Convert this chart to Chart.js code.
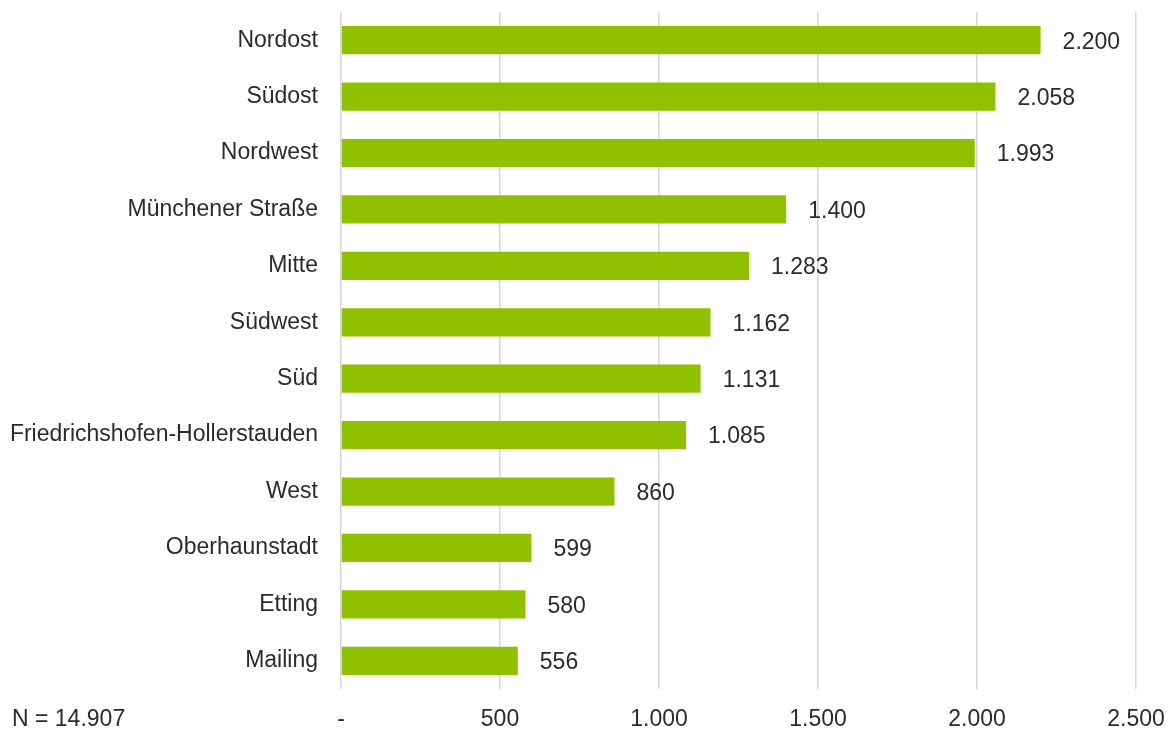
<!DOCTYPE html>
<html lang="de">
<head>
<meta charset="utf-8">
<title>Stadtbezirke</title>
<script src="https://cdn.jsdelivr.net/npm/chart.js@4/dist/chart.umd.min.js"></script>
<style>
  html, body { margin: 0; padding: 0; background: #ffffff; }
  #wrap { position: relative; width: 1169px; height: 729px; }
</style>
</head>
<body>
<div id="wrap"><canvas id="chart" width="1169" height="729"></canvas></div>
<script>
// Districts, top to bottom
const districts = [
  'Nordost', 'Südost', 'Nordwest', 'Münchener Straße', 'Mitte', 'Südwest',
  'Süd', 'Friedrichshofen-Hollerstauden', 'West', 'Oberhaunstadt', 'Etting', 'Mailing'
];
// Count per district
const counts = [2200, 2058, 1993, 1400, 1283, 1162, 1131, 1085, 860, 599, 580, 556];
// Value axis ticks
const axisTicks = [0, 500, 1000, 1500, 2000, 2500];
const totalNote = 'N = 14.907';

const FONT = '"Liberation Sans", Arial, sans-serif';
const TEXT = '#2b2b2b';
const fmt = v => v === 0 ? '-' : v.toLocaleString('de-DE');

// Drop the extra label padding Chart.js reserves around each scale
function noEdgePadding(scale) {
  scale.paddingTop = 0;
  scale.paddingBottom = 0;
  scale.paddingLeft = 0;
  scale.paddingRight = 0;
}

// Value labels right of each bar
const valueLabels = {
  id: 'valueLabels',
  afterDatasetsDraw(chart) {
    const { ctx } = chart;
    const meta = chart.getDatasetMeta(0);
    ctx.save();
    ctx.font = '23px ' + FONT;
    ctx.fillStyle = TEXT;
    ctx.textAlign = 'left';
    ctx.textBaseline = 'middle';
    meta.data.forEach((bar, i) => {
      ctx.fillText(fmt(counts[i]), bar.x + 22, bar.y + 2);
    });
    ctx.restore();
  }
};

// Sample size note on the same line as the axis labels
const sampleNote = {
  id: 'sampleNote',
  afterDraw(chart) {
    const { ctx, chartArea } = chart;
    const tickOpts = chart.scales.x.options.ticks;
    ctx.save();
    ctx.font = '23px ' + FONT;
    ctx.fillStyle = TEXT;
    ctx.textAlign = 'left';
    ctx.textBaseline = 'top';
    ctx.fillText(totalNote, 12, chartArea.bottom + tickOpts.padding);
    ctx.restore();
  }
};

new Chart(document.getElementById('chart'), {
  type: 'bar',
  data: {
    labels: districts,
    datasets: [{
      data: counts,
      backgroundColor: '#8FC100',
      borderWidth: 0,
      barPercentage: 0.5,
      categoryPercentage: 1.0
    }]
  },
  options: {
    indexAxis: 'y',
    responsive: false,
    animation: false,
    layout: { padding: { top: 12, right: 33, bottom: 0, left: 0 } },
    plugins: { legend: { display: false }, tooltip: { enabled: false } },
    scales: {
      x: {
        min: 0,
        max: 2500,
        afterBuildTicks(scale) { scale.ticks = axisTicks.map(v => ({ value: v })); },
        afterFit(scale) { noEdgePadding(scale); scale.height = 40; },
        border: { display: false },
        grid: { color: '#D6D6D6', lineWidth: 1.5, drawTicks: false },
        ticks: {
          padding: 19,
          color: TEXT,
          maxRotation: 0,
          font: { family: FONT, size: 23, lineHeight: 1 },
          callback: v => fmt(v)
        }
      },
      y: {
        border: { display: false },
        grid: { display: false, drawTicks: false },
        afterFit(scale) { noEdgePadding(scale); scale.width = 341; },
        ticks: {
          padding: 23,
          color: TEXT,
          font: { family: FONT, size: 23, lineHeight: 1 }
        }
      }
    }
  },
  plugins: [valueLabels, sampleNote]
});
</script>
</body>
</html>
